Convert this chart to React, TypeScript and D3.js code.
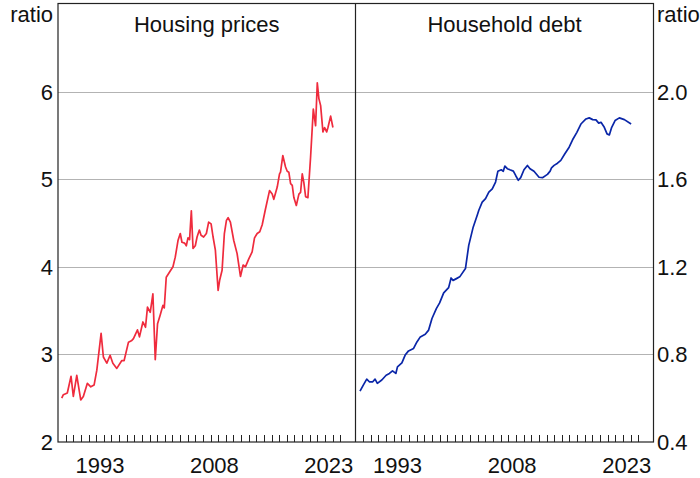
import React from 'react';
import * as d3 from 'd3';

const housingDates = [1988.49, 1988.70, 1989.22, 1989.71, 1990.01, 1990.46, 1990.98, 1991.32, 1991.85, 1992.30, 1992.73, 1993.09, 1993.65, 1993.95, 1994.40, 1994.83, 1995.19, 1995.71, 1996.37, 1996.67, 1997.24, 1997.68, 1997.89, 1998.42, 1998.68, 1999.13, 1999.47, 1999.73, 2000.09, 2000.44, 2000.75, 2001.05, 2001.40, 2001.76, 2001.93, 2002.19, 2002.63, 2003.07, 2003.37, 2003.73, 2004.03, 2004.25, 2004.60, 2004.82, 2005.04, 2005.25, 2005.48, 2005.70, 2006.00, 2006.23, 2006.53, 2006.75, 2007.09, 2007.45, 2007.75, 2008.07, 2008.33, 2008.63, 2008.99, 2009.20, 2009.51, 2009.81, 2010.08, 2010.30, 2010.60, 2011.04, 2011.48, 2011.92, 2012.27, 2012.57, 2013.01, 2013.45, 2013.76, 2014.11, 2014.45, 2014.77, 2015.20, 2015.73, 2016.08, 2016.29, 2016.74, 2017.04, 2017.17, 2017.47, 2017.83, 2018.05, 2018.26, 2018.49, 2018.71, 2018.92, 2019.24, 2019.58, 2019.80, 2020.02, 2020.23, 2020.46, 2020.76, 2021.11, 2021.47, 2021.77, 2021.99, 2022.20, 2022.43, 2022.73, 2022.95, 2023.22, 2023.39, 2023.74, 2024.04];
const housingValues = [2.50, 2.54, 2.56, 2.75, 2.52, 2.76, 2.48, 2.52, 2.67, 2.63, 2.65, 2.82, 3.24, 2.97, 2.90, 2.99, 2.90, 2.84, 2.93, 2.93, 3.14, 3.16, 3.18, 3.28, 3.20, 3.37, 3.31, 3.54, 3.48, 3.69, 2.94, 3.35, 3.45, 3.56, 3.53, 3.88, 3.94, 4.00, 4.11, 4.30, 4.38, 4.28, 4.27, 4.24, 4.33, 4.31, 4.64, 4.21, 4.24, 4.34, 4.42, 4.36, 4.34, 4.38, 4.51, 4.49, 4.34, 4.19, 3.73, 3.85, 3.96, 4.38, 4.53, 4.56, 4.51, 4.30, 4.15, 3.89, 4.02, 4.00, 4.09, 4.17, 4.33, 4.38, 4.40, 4.48, 4.66, 4.87, 4.83, 4.77, 4.91, 5.06, 5.08, 5.27, 5.14, 5.09, 5.08, 4.95, 4.93, 4.79, 4.70, 4.83, 4.85, 5.06, 4.96, 4.80, 4.79, 5.25, 5.80, 5.61, 6.10, 5.92, 5.84, 5.54, 5.59, 5.54, 5.59, 5.72, 5.59];

const debtDates = [1988.59, 1989.02, 1989.47, 1989.81, 1990.26, 1990.56, 1990.86, 1991.44, 1992.01, 1992.44, 1992.84, 1993.28, 1993.49, 1994.07, 1994.50, 1994.94, 1995.60, 1996.04, 1996.48, 1997.13, 1997.57, 1998.01, 1998.58, 1999.01, 1999.54, 2000.19, 2000.51, 2000.77, 2001.21, 2001.64, 2002.39, 2002.82, 2003.40, 2003.93, 2004.14, 2004.58, 2005.02, 2005.45, 2005.90, 2006.33, 2006.63, 2007.08, 2007.34, 2007.55, 2007.87, 2008.21, 2008.66, 2008.96, 2009.31, 2009.62, 2010.05, 2010.50, 2010.84, 2011.36, 2012.02, 2012.47, 2013.12, 2013.47, 2013.65, 2013.99, 2014.44, 2014.87, 2015.40, 2015.96, 2016.41, 2016.97, 2017.50, 2018.16, 2018.59, 2019.04, 2019.47, 2019.83, 2020.13, 2020.56, 2020.92, 2021.22, 2021.53, 2021.97, 2022.53, 2023.19, 2024.07];
const debtValues = [0.632, 0.660, 0.687, 0.675, 0.675, 0.687, 0.668, 0.683, 0.705, 0.713, 0.725, 0.713, 0.743, 0.761, 0.797, 0.816, 0.827, 0.857, 0.880, 0.892, 0.911, 0.964, 1.009, 1.035, 1.081, 1.105, 1.149, 1.138, 1.146, 1.154, 1.192, 1.298, 1.381, 1.435, 1.458, 1.495, 1.511, 1.541, 1.556, 1.587, 1.636, 1.643, 1.636, 1.660, 1.648, 1.643, 1.637, 1.617, 1.595, 1.607, 1.643, 1.663, 1.648, 1.636, 1.609, 1.607, 1.622, 1.637, 1.652, 1.663, 1.673, 1.686, 1.716, 1.746, 1.780, 1.814, 1.852, 1.875, 1.880, 1.872, 1.871, 1.856, 1.860, 1.837, 1.807, 1.802, 1.837, 1.868, 1.880, 1.872, 1.852];

const leftTickValues = [2, 3, 4, 5, 6];
const rightTickValues = [0.4, 0.8, 1.2, 1.6, 2.0];
const yearLabels = [1993, 2008, 2023];
const tickYears = d3.range(1989, 2026);
const panelTitles = ['Housing prices', 'Household debt'];

const W = 700;
const H = 478;
const top = 4;
const bottom = 442;
const leftX0 = 58;
const midX = 355.5;
const rightX1 = 653.5;
const FONT = "Arial, 'Liberation Sans', sans-serif";
const FS = 22;

export default function App() {
  const xLeft = d3.scaleLinear().domain([1988, 2027]).range([leftX0, midX]);
  const xRight = d3.scaleLinear().domain([1988, 2027]).range([midX, rightX1]);
  const yLeft = d3.scaleLinear().domain([2, 7]).range([bottom, top]);
  const yRight = d3.scaleLinear().domain([0.4, 2.4]).range([bottom, top]);

  const housing = housingDates.map((d, i) => [d, housingValues[i]] as [number, number]);
  const debt = debtDates.map((d, i) => [d, debtValues[i]] as [number, number]);

  const lineLeft = d3.line<[number, number]>().x(d => xLeft(d[0])).y(d => yLeft(d[1]));
  const lineRight = d3.line<[number, number]>().x(d => xRight(d[0])).y(d => yRight(d[1]));

  return (
    <svg width={W} height={H} style={{ position: 'absolute', left: 0, top: 0, background: '#fff' }} fontFamily={FONT}>
      <rect x={0} y={0} width={W} height={H} fill="#fff" />
      {leftTickValues.filter(v => v > 2).map(v => (
        <line key={'g' + v} x1={leftX0} x2={rightX1} y1={Math.round(yLeft(v)) + 0.5} y2={Math.round(yLeft(v)) + 0.5} stroke="#b3b3b3" strokeWidth={1} />
      ))}
      {tickYears.map(y => (
        <g key={'t' + y}>
          <line x1={Math.round(xLeft(y)) + 0.5} x2={Math.round(xLeft(y)) + 0.5} y1={bottom} y2={bottom - 7} stroke="#222" strokeWidth={1} />
          <line x1={Math.round(xRight(y)) + 0.5} x2={Math.round(xRight(y)) + 0.5} y1={bottom} y2={bottom - 7} stroke="#222" strokeWidth={1} />
        </g>
      ))}
      <path d={lineLeft(housing) || ''} fill="none" stroke="#ef2b3d" strokeWidth={1.7} strokeLinejoin="round" />
      <path d={lineRight(debt) || ''} fill="none" stroke="#0a26a8" strokeWidth={1.7} strokeLinejoin="round" />
      <rect x={leftX0} y={top - 0.5} width={rightX1 - leftX0} height={bottom - top + 0.5} fill="none" stroke="#222" strokeWidth={1.2} />
      <line x1={midX} x2={midX} y1={top} y2={bottom} stroke="#222" strokeWidth={1.2} />
      <text x={(leftX0 + midX) / 2} y={32} textAnchor="middle" fontSize={FS} fill="#111">{panelTitles[0]}</text>
      <text x={(midX + rightX1) / 2} y={32} textAnchor="middle" fontSize={FS} fill="#111">{panelTitles[1]}</text>
      <text x={53} y={21.5} textAnchor="end" fontSize={FS} fill="#111">ratio</text>
      <text x={657} y={21.5} textAnchor="start" fontSize={FS} fill="#111">ratio</text>
      {leftTickValues.map(v => (
        <text key={'l' + v} x={53} y={yLeft(v) + 8} textAnchor="end" fontSize={FS} fill="#111">{v}</text>
      ))}
      {rightTickValues.map(v => (
        <text key={'r' + v} x={657} y={yRight(v) + 8} textAnchor="start" fontSize={FS} fill="#111">{v.toFixed(1)}</text>
      ))}
      {yearLabels.map(y => (
        <g key={'x' + y}>
          <text x={xLeft(y + 0.5)} y={472.5} textAnchor="middle" fontSize={FS} fill="#111">{y}</text>
          <text x={xRight(y + 0.5)} y={472.5} textAnchor="middle" fontSize={FS} fill="#111">{y}</text>
        </g>
      ))}
    </svg>
  );
}
